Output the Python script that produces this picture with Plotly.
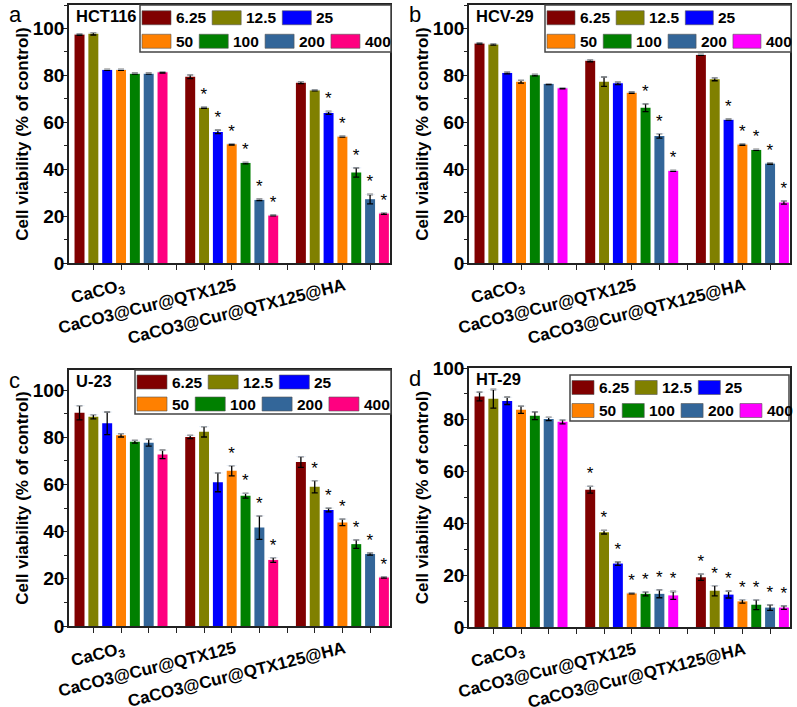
import numpy as np
import plotly.graph_objects as go

# concentrations (legend) and sample groups (x axis)
conc = ["6.25", "12.5", "25", "50", "100", "200", "400"]
groups = ["CaCO3", "CaCO3@Cur@QTX125", "CaCO3@Cur@QTX125@HA"]
group_labels = ["CaCO<sub>3</sub>", "CaCO3@Cur@QTX125", "CaCO3@Cur@QTX125@HA"]

# values: one list per group, 7 concentrations each
hct116_mean = [[97.4, 97.7, 82.3, 82.3, 80.7, 80.7, 81.3],
               [79.4, 66.2, 55.9, 50.6, 42.6, 26.9, 20.3],
               [76.9, 73.6, 64.0, 53.9, 38.6, 27.2, 21.1]]
hct116_err = [[0.3, 0.5, 0.2, 0.2, 0.2, 0.2, 0.3],
              [0.8, 0.3, 0.7, 0.3, 0.3, 0.3, 0.2],
              [0.4, 0.2, 0.6, 0.2, 2.0, 2.0, 0.4]]
hct116_sig = [[0, 0, 0, 0, 0, 0, 0],
              [0, 1, 1, 1, 1, 1, 1],
              [0, 0, 1, 1, 1, 1, 1]]

hcv29_mean = [[93.6, 93.2, 81.0, 77.3, 80.1, 76.3, 74.5],
              [86.2, 77.3, 76.6, 72.6, 66.2, 54.2, 39.3],
              [88.7, 78.3, 61.1, 50.5, 48.2, 42.4, 25.8]]
hcv29_err = [[0.3, 0.3, 0.4, 0.6, 0.3, 0.2, 0.3],
             [0.4, 2.0, 0.5, 0.3, 1.7, 1.0, 0.2],
             [0.2, 0.6, 0.2, 0.3, 0.2, 0.3, 0.7]]
hcv29_sig = [[0, 0, 0, 0, 0, 0, 0],
             [0, 0, 0, 0, 1, 1, 1],
             [0, 0, 1, 1, 1, 1, 1]]

u23_mean = [[90.4, 88.7, 85.9, 80.8, 78.1, 77.7, 72.7],
            [80.1, 82.3, 60.9, 65.8, 55.2, 41.7, 28.0],
            [69.5, 59.0, 49.2, 43.9, 34.7, 30.5, 20.6]]
u23_err = [[3.0, 0.9, 4.8, 0.7, 0.6, 1.5, 1.8],
           [0.7, 2.2, 4.0, 2.2, 1.0, 5.0, 1.0],
           [2.3, 2.6, 0.8, 1.4, 1.8, 0.5, 0.3]]
u23_sig = [[0, 0, 0, 0, 0, 0, 0],
           [0, 0, 0, 1, 1, 1, 1],
           [0, 1, 1, 1, 1, 1, 1]]

ht29_mean = [[89.0, 88.1, 87.3, 83.9, 81.6, 80.3, 79.2],
             [53.0, 36.6, 24.5, 13.0, 12.8, 12.8, 12.2],
             [19.2, 14.0, 12.5, 9.9, 8.6, 7.5, 7.5]]
ht29_err = [[1.7, 3.6, 1.4, 1.4, 1.5, 0.6, 0.8],
            [1.3, 0.7, 0.7, 0.2, 0.8, 1.5, 1.5],
            [1.2, 2.0, 1.3, 0.7, 1.9, 1.1, 0.7]]
ht29_sig = [[0, 0, 0, 0, 0, 0, 0],
            [1, 1, 1, 1, 1, 1, 1],
            [1, 1, 1, 1, 1, 1, 1]]

base_colors = ["#800000", "#808000", "#0000FF", "#FF8000", "#008000", "#336699"]

FONT = "Liberation Sans, Arial, sans-serif"
W, H = 797, 707
LEG_FONT = 15.5


def px_x(v):
    return v / W


def px_y(v):
    return 1 - v / H


def text_w(s, size):
    # Arial bold advance widths for digits and the dot
    return sum(0.278 if ch == "." else 0.556 for ch in s) * size


panels = [
    # plot box (l, r, top, bottom px), legend box (l, r, top, bottom px), swatch width
    dict(letter="a", name="HCT116", mean=hct116_mean, err=hct116_err, sig=hct116_sig,
         c400="#FF0080", ymax=110, box=(69, 390, 5, 263), leg=(140, 391, 5, 52), sw=29),
    dict(letter="b", name="HCV-29", mean=hcv29_mean, err=hcv29_err, sig=hcv29_sig,
         c400="#FF00FF", ymax=110, box=(469, 790, 5, 263), leg=(545, 791, 5, 52), sw=28),
    dict(letter="c", name="U-23", mean=u23_mean, err=u23_err, sig=u23_sig,
         c400="#FF0080", ymax=108.5, box=(69, 390, 370, 626), leg=(135, 391, 370, 414), sw=30),
    dict(letter="d", name="HT-29", mean=ht29_mean, err=ht29_err, sig=ht29_sig,
         c400="#FF00FF", ymax=100, box=(469, 790, 368, 627), leg=(570, 789, 375, 421), sw=22),
]

fig = go.Figure()
layout = dict(width=W, height=H, margin=dict(l=0, r=0, t=0, b=0),
              plot_bgcolor="white", paper_bgcolor="white",
              barmode="group", bargap=0.125, bargroupgap=0.28,
              font=dict(family=FONT, color="black"), showlegend=False)
shapes, annotations = [], []

for p, pan in enumerate(panels):
    sfx = "" if p == 0 else str(p + 1)
    xa, ya = "x" + sfx, "y" + sfx
    colors = base_colors + [pan["c400"]]
    l, r, t, b = pan["box"]

    for j, c in enumerate(conc):
        vals = [pan["mean"][g][j] for g in range(3)]
        errs = [pan["err"][g][j] for g in range(3)]
        fig.add_trace(go.Bar(
            x=groups, y=vals, name=c, offsetgroup=str(j), xaxis=xa, yaxis=ya,
            marker=dict(color=colors[j], line=dict(width=0)),
            error_y=dict(type="data", array=errs, color="black", thickness=1.3, width=3),
            hoverinfo="skip"))
        # significance stars sitting on top of each error bar
        tops = [v + e for v, e in zip(vals, errs)]
        stars = ["*" if pan["sig"][g][j] else "" for g in range(3)]
        fig.add_trace(go.Bar(
            x=groups, y=[0.01] * 3, base=tops, offsetgroup=str(j), xaxis=xa, yaxis=ya,
            marker=dict(color="rgba(0,0,0,0)"), text=stars, textposition="outside",
            constraintext="none", cliponaxis=False,
            textfont=dict(size=17, color="black", family=FONT), hoverinfo="skip"))

    ax_common = dict(showline=True, linecolor="#222", linewidth=1.5, mirror=True,
                     showgrid=False, zeroline=False, automargin=False)
    layout["xaxis" + sfx] = dict(
        ax_common, domain=[px_x(l), px_x(r)], anchor=ya,
        range=[-0.47, 2.43], tickmode="array",
        tickvals=list(np.arange(-0.25, 2.3, 0.25)), ticktext=[""] * 11,
        ticks="outside", ticklen=5, tickcolor="#222", tickwidth=1.2)
    layout["yaxis" + sfx] = dict(
        ax_common, domain=[px_y(b), px_y(t)], anchor=xa,
        range=[0, pan["ymax"]], tickmode="linear", tick0=0, dtick=20,
        ticks="outside", ticklen=4, tickcolor="#222", tickwidth=1.2,
        ticklabelstandoff=-5,
        tickfont=dict(size=19, weight="bold", family=FONT),
        minor=dict(dtick=10, ticks="outside", ticklen=3, tickcolor="#222"),
        title=dict(text="Cell viability (% of control)", standoff=0,
                   font=dict(size=17, weight="bold", family=FONT)))

    # group labels under the axis, slanted
    for g, lab in enumerate(group_labels):
        annotations.append(dict(
            x=groups[g], y=0, xref=xa, yref=ya, text=lab, showarrow=False,
            textangle=-14, xanchor="right", yanchor="top", xshift=8, yshift=-10,
            font=dict(size=17, weight="bold", family=FONT)))

    # cell line name and panel letter
    annotations.append(dict(
        x=0.017, y=px_y(t + 11), xref=xa + " domain", yref="paper", text=pan["name"],
        showarrow=False, xanchor="left", yanchor="middle",
        font=dict(size=16.5, weight="bold", family=FONT)))
    annotations.append(dict(
        x=px_x(l - 62), y=px_y(t + 10), xref="paper", yref="paper", text=pan["letter"],
        showarrow=False, xanchor="left", yanchor="middle", font=dict(size=22, family=FONT)))

    # legend: white frame, two rows (3 + 4 entries) of swatches and labels
    ll, lr, lt, lb = pan["leg"]
    shapes.append(dict(type="rect", xref="paper", yref="paper",
                       x0=px_x(ll), x1=px_x(lr), y0=px_y(lb), y1=px_y(lt),
                       fillcolor="white", line=dict(color="#444", width=1.5), layer="above"))
    row_h = (lb - lt) / 2
    rows = [range(0, 3), range(3, 7)]
    for k, row in enumerate(rows):
        cy = lt + row_h * (k + 0.5) + 1
        xpos = ll + 2
        for j in row:
            shapes.append(dict(type="rect", xref="paper", yref="paper",
                               x0=px_x(xpos), x1=px_x(xpos + pan["sw"]),
                               y0=px_y(cy + 7), y1=px_y(cy - 7),
                               fillcolor=colors[j], line=dict(color="#555", width=0.6),
                               layer="above"))
            annotations.append(dict(
                x=px_x(xpos + pan["sw"] + 3), y=px_y(cy), xref="paper", yref="paper",
                text=conc[j], showarrow=False, xanchor="left", yanchor="middle",
                font=dict(size=LEG_FONT, weight="bold", family=FONT)))
            xpos += pan["sw"] + 3 + text_w(conc[j], LEG_FONT) + 8

layout["shapes"] = shapes
layout["annotations"] = annotations
fig.update_layout(**layout)
# page body has a default 8px margin; drop it so the figure sits at the window corner
fig.write_html("out.html", config={"displayModeBar": False},
               post_script="document.body.style.margin='0';")
